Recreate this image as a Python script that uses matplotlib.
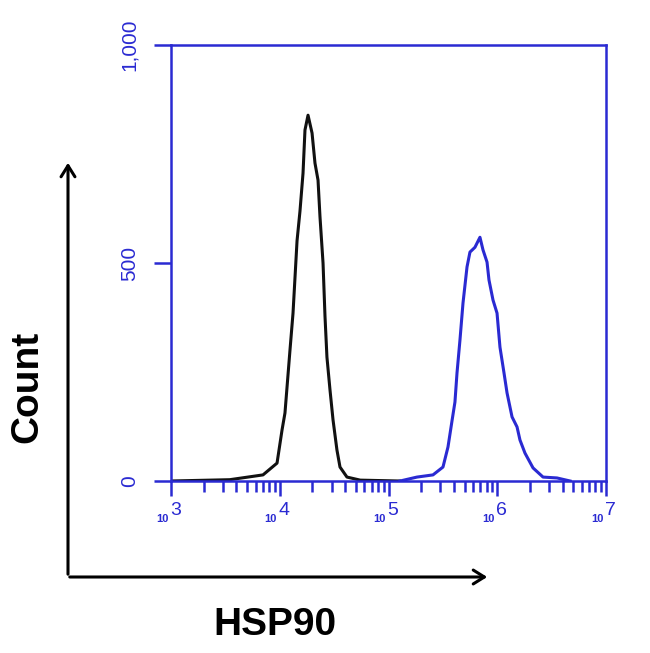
import numpy as np
import matplotlib
matplotlib.use('Agg')
from matplotlib import pyplot as plt
from matplotlib.patches import FancyArrowPatch
from matplotlib.ticker import LogLocator, FixedLocator, NullFormatter

# log10 of fluorescence channel, and event counts
black_log = [3.0, 3.54, 3.846, 3.975, 4.021, 4.048, 4.094, 4.122, 4.159, 4.186, 4.214,
             4.232, 4.260, 4.297, 4.324, 4.352, 4.370, 4.398, 4.416, 4.434, 4.462,
             4.490, 4.526, 4.554, 4.618, 4.74, 5.1]
black_count = [0, 3, 14, 41, 117, 156, 300, 385, 551, 619, 706,
               805, 839, 798, 729, 690, 606, 500, 378, 284, 209,
               140, 71, 32, 9, 2, 0]

blue_log = [5.106, 5.262, 5.409, 5.501, 5.547, 5.584, 5.611, 5.630, 5.657, 5.685,
            5.722, 5.749, 5.795, 5.841, 5.869, 5.906, 5.924, 5.961, 5.998, 6.025,
            6.062, 6.090, 6.136, 6.182, 6.209, 6.255, 6.329, 6.421, 6.549, 6.67]
blue_count = [0, 9, 14, 32, 78, 138, 181, 248, 323, 408,
              491, 525, 536, 559, 530, 502, 461, 415, 385, 307,
              248, 202, 147, 124, 94, 64, 30, 9, 7, 0]

y_ticks = [0, 500, 1000]
y_labels = ['0', '500', '1,000']
x_decades = [3, 4, 5, 6, 7]

blue = '#2a2ad2'

plt.rcParams['font.family'] = ['Liberation Sans', 'DejaVu Sans']

fig = plt.figure(figsize=(6.5, 6.53), dpi=100)
ax = fig.add_axes([171 / 650, 1 - 481 / 653, 435 / 650, 436 / 653])

ax.plot(10 ** np.array(black_log), black_count, color='#111111', lw=2.2)
ax.plot(10 ** np.array(blue_log), blue_count, color=blue, lw=2.2)

ax.set_xscale('log')
ax.set_xlim(1e3, 1e7)
ax.set_ylim(0, 1000)

for s in ax.spines.values():
    s.set_color(blue)
    s.set_linewidth(1.8)

ax.xaxis.set_major_locator(FixedLocator([10.0 ** d for d in x_decades]))
ax.xaxis.set_major_formatter(NullFormatter())
ax.xaxis.set_minor_locator(LogLocator(base=10, subs=np.arange(2, 10)))
ax.xaxis.set_minor_formatter(NullFormatter())
ax.tick_params(axis='x', which='major', direction='out', length=11, width=1.8, color=blue)
ax.tick_params(axis='x', which='minor', direction='out', length=8, width=1.8, color=blue)

# decade labels: small "10" with a larger raised exponent
for d in x_decades:
    ax.annotate('10', xy=(10.0 ** d, 0), xycoords=('data', 'axes fraction'),
                xytext=(-6.5, -29.5), textcoords='offset points', ha='center', va='baseline',
                fontsize=8, fontweight='bold', color=blue)
    ax.annotate(str(d), xy=(10.0 ** d, 0), xycoords=('data', 'axes fraction'),
                xytext=(3, -24.5), textcoords='offset points', ha='center', va='baseline',
                fontsize=14, color=blue)

ax.set_yticks(y_ticks)
ax.set_yticklabels(y_labels, rotation=90, va='center')
ax.tick_params(axis='y', direction='out', length=12, width=1.8, color=blue,
               labelcolor=blue, labelsize=15, pad=11)

# outer black arrows
fig.add_artist(FancyArrowPatch(
    (68 / 650, 1 - 577 / 653), (68 / 650, 1 - 160 / 653), transform=fig.transFigure,
    arrowstyle='->,head_length=8,head_width=5', lw=2.2, color='black', mutation_scale=1))
fig.add_artist(FancyArrowPatch(
    (67 / 650, 1 - 577 / 653), (490 / 650, 1 - 577 / 653), transform=fig.transFigure,
    arrowstyle='->,head_length=8,head_width=5', lw=2.2, color='black', mutation_scale=1))

fig.text(27 / 650, 1 - 387 / 653, 'Count', rotation=90, ha='center', va='center',
         fontsize=28, fontweight='bold')
fig.text(275 / 650, 1 - 625 / 653, 'HSP90', ha='center', va='center',
         fontsize=28, fontweight='bold')

fig.savefig('out.png', dpi=100)
